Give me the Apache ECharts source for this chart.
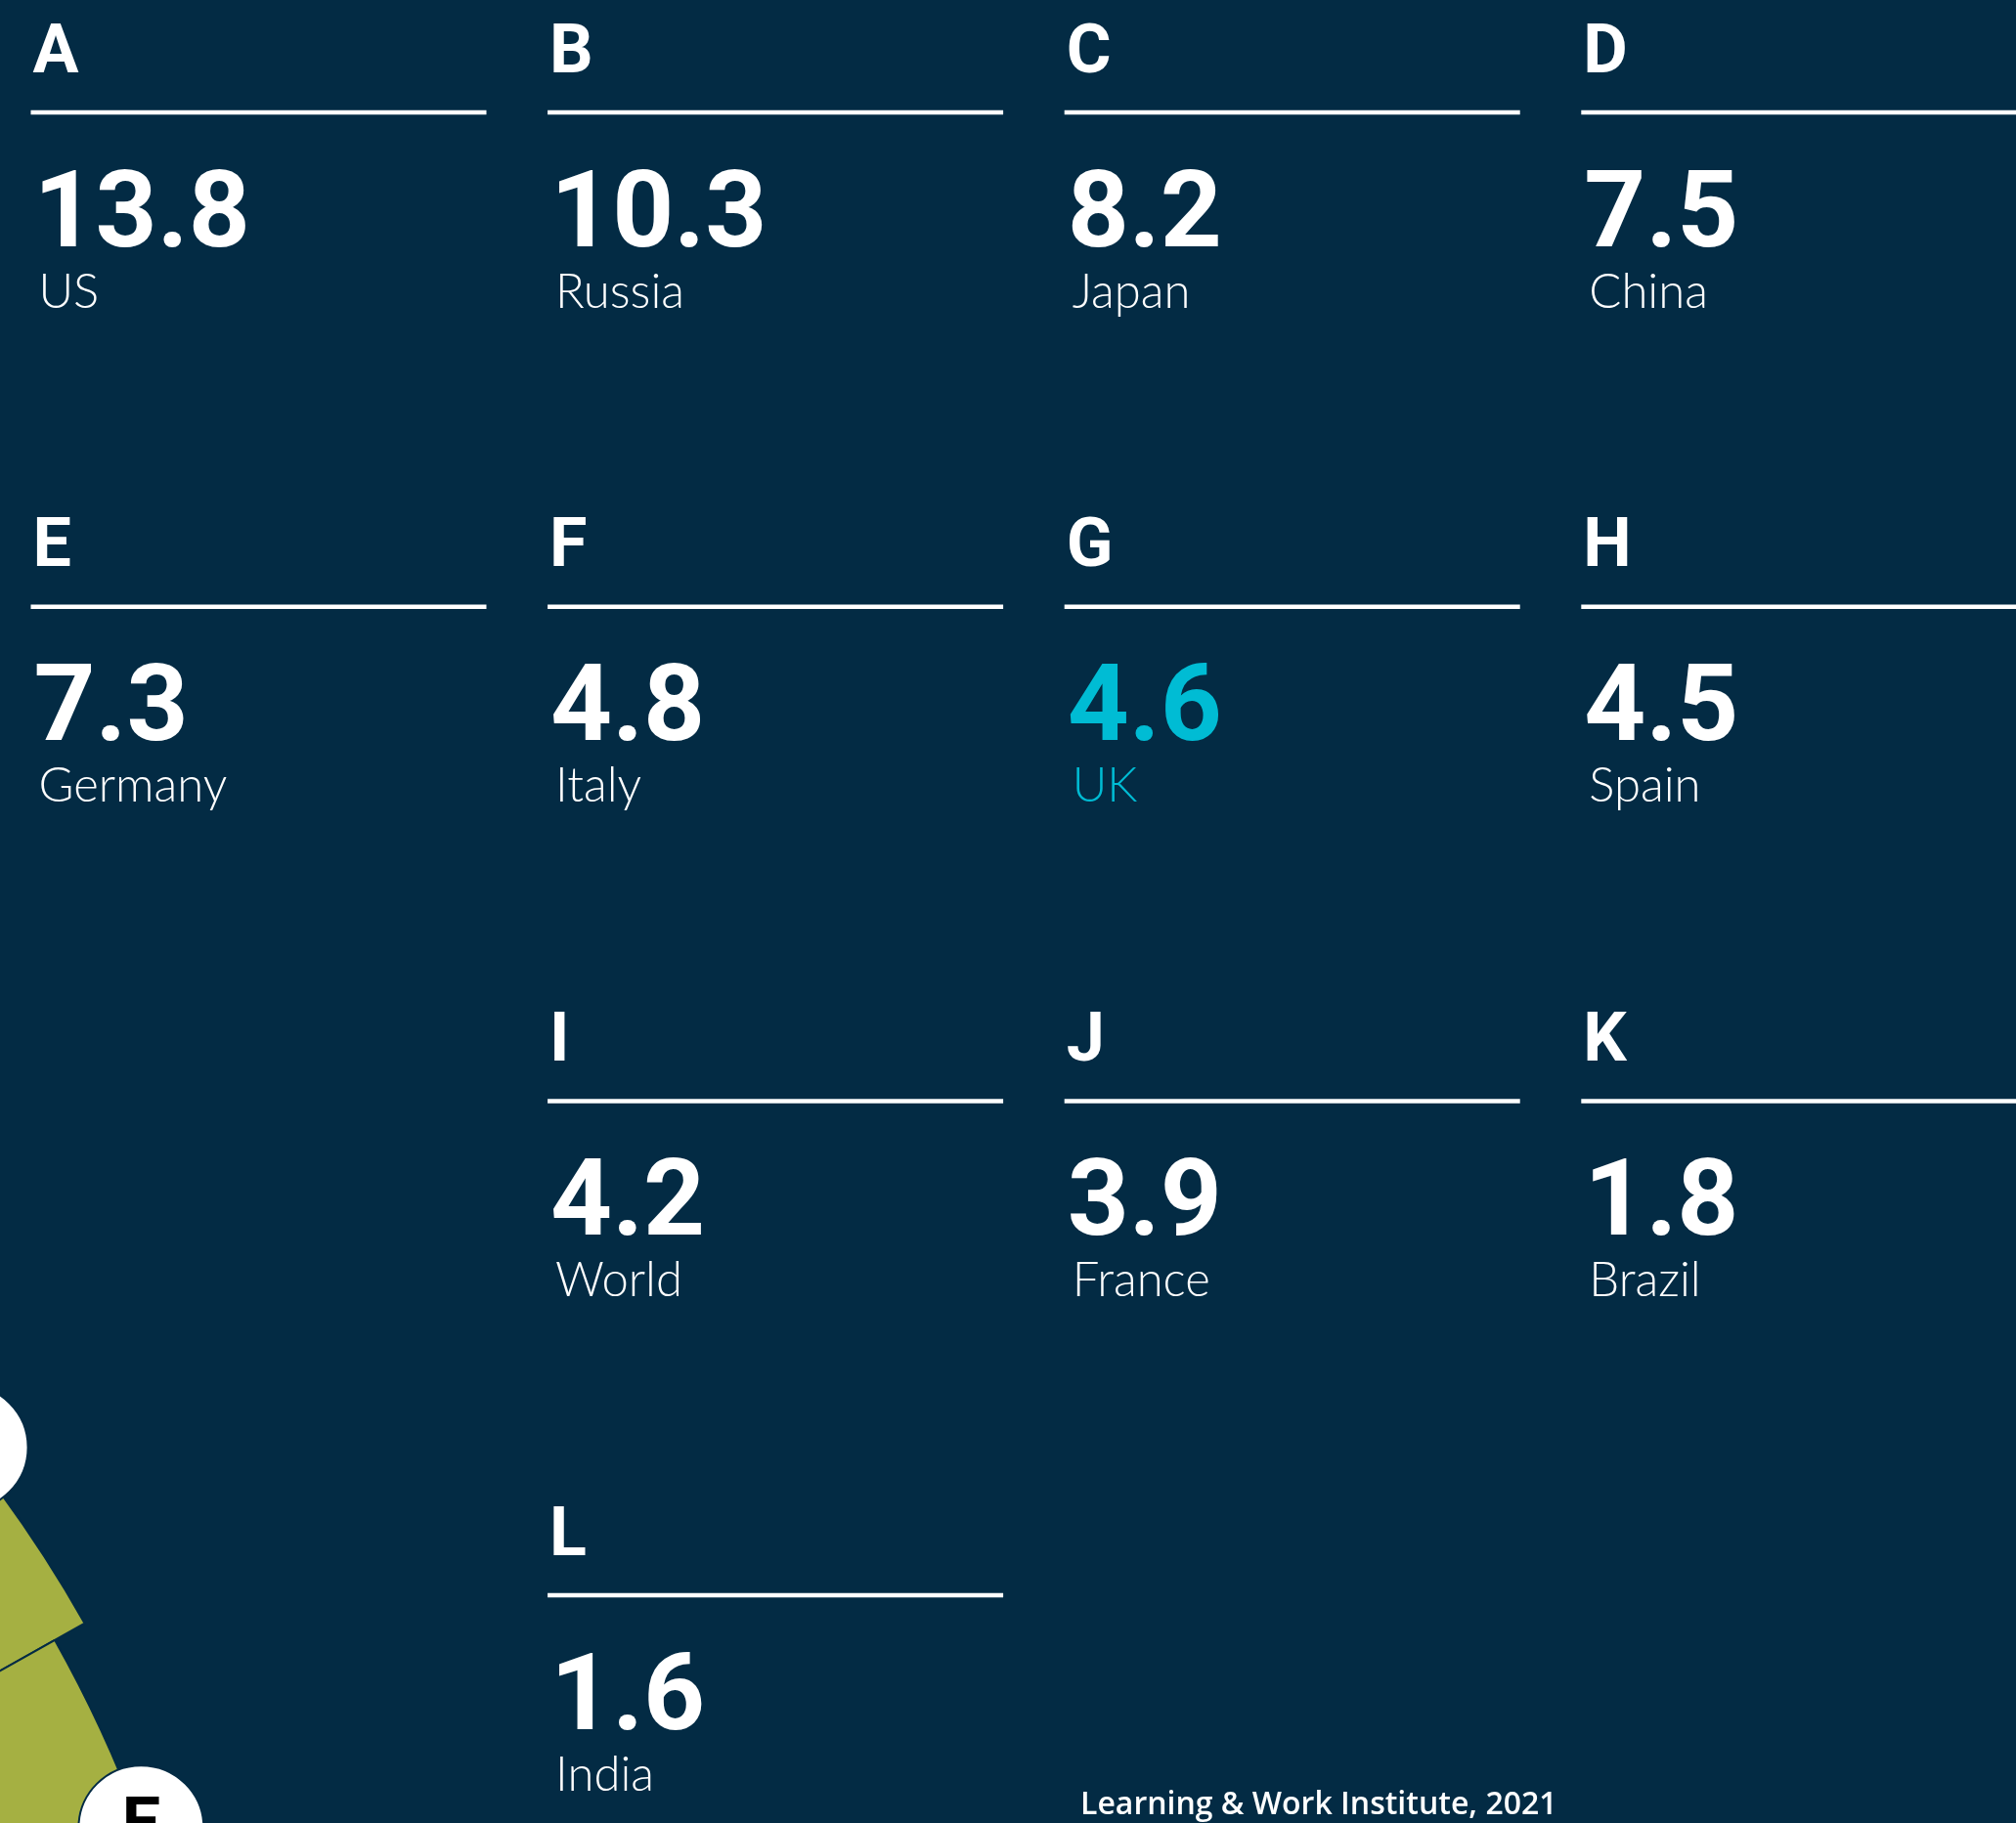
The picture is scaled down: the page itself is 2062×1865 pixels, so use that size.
<!DOCTYPE html>
<html>
<head>
<meta charset="utf-8">
<title>Learning & Work Institute, 2021</title>
<script src="https://cdn.jsdelivr.net/npm/echarts@6/dist/echarts.min.js"></script>
<style>
  html, body { margin: 0; padding: 0; background: #032b44; }
  #chart { width: 2062px; height: 1865px; }
</style>
</head>
<body>
<div id="chart"></div>
<script>
const letters = ['A', 'B', 'C', 'D', 'E', 'F', 'G', 'H', 'I', 'J', 'K', 'L'];
const countries = ['US', 'Russia', 'Japan', 'China', 'Germany', 'Italy', 'UK', 'Spain', 'World', 'France', 'Brazil', 'India'];
const values = [13.8, 10.3, 8.2, 7.5, 7.3, 4.8, 4.6, 4.5, 4.2, 3.9, 1.8, 1.6];
const highlight = 'UK';
const source = 'Learning & Work Institute, 2021';

const BG = '#032b44';
const WHITE = '#ffffff';
const CYAN = '#00bcd4';
const GREEN = '#a5b042';

// card slots: two full rows, then the rest start in the second column
function slot(i) {
  if (i < 8) return [i % 4, Math.floor(i / 4)];
  const j = i - 8;
  return [1 + (j % 3), 2 + Math.floor(j / 3)];
}
const cells = letters.map((_, i) => slot(i).concat(i));

function textStyle(text, fill, font) {
  return {
    text, fill, font,
    align: 'left', verticalAlign: 'middle',
    textAlign: 'left', textVerticalAlign: 'middle',
  };
}

function renderCard(params, api) {
  const p = api.coord([api.value(0), api.value(1)]);
  const i = api.value(2);
  const color = countries[i] === highlight ? CYAN : WHITE;
  const x = p[0];
  const y = p[1];
  return {
    type: 'group',
    children: [
      { type: 'text', x: x + 2, y: y - 59, style: textStyle(letters[i], WHITE, '700 70px Roboto') },
      { type: 'rect', shape: { x: x, y: y - 2.2, width: 466, height: 4.5 }, style: { fill: WHITE } },
      { type: 'text', x: x + 3, y: y + 109, style: textStyle(values[i].toFixed(1), color, '700 110px Roboto') },
      { type: 'text', x: x + 8, y: y + 184, style: textStyle(countries[i], color, '300 49px Lato, Roboto') },
    ],
  };
}

const chart = echarts.init(document.getElementById('chart'));

chart.setOption({
  backgroundColor: BG,
  animation: false,
  grid: { left: 31.5, right: 444.7, top: 115, bottom: 233 },
  xAxis: { type: 'value', min: 0, max: 3, show: false },
  yAxis: { type: 'value', min: 0, max: 3, inverse: true, show: false },
  // the rose chart sits mostly off the page, only D and E peek in
  polar: { center: [-1060, 2307], radius: 2457 },
  radiusAxis: { type: 'value', min: 0, max: 14, show: false },
  angleAxis: { type: 'category', data: letters, max: 18, startAngle: 105.2, show: false },
  graphic: [
    {
      type: 'text',
      x: 1105,
      y: 1847,
      style: textStyle(source, WHITE, '600 32px "Open Sans"'),
    },
  ],
  series: [
    {
      type: 'bar',
      coordinateSystem: 'polar',
      data: values,
      barCategoryGap: '0%',
      silent: true,
      itemStyle: { color: GREEN, borderColor: BG, borderWidth: 2 },
    },
    {
      type: 'scatter',
      coordinateSystem: 'polar',
      data: values.map((v, i) => [v, letters[i]]),
      symbol: 'circle',
      symbolSize: 128,
      silent: true,
      itemStyle: { color: WHITE, borderColor: BG, borderWidth: 2, opacity: 1 },
      label: {
        show: true,
        position: 'inside',
        formatter: (p) => letters[p.dataIndex],
        color: '#000',
        fontFamily: 'Roboto',
        fontWeight: 700,
        fontSize: 70,
      },
    },
    {
      type: 'custom',
      coordinateSystem: 'cartesian2d',
      data: cells,
      clip: false,
      silent: true,
      renderItem: renderCard,
    },
  ],
});
</script>
</body>
</html>
